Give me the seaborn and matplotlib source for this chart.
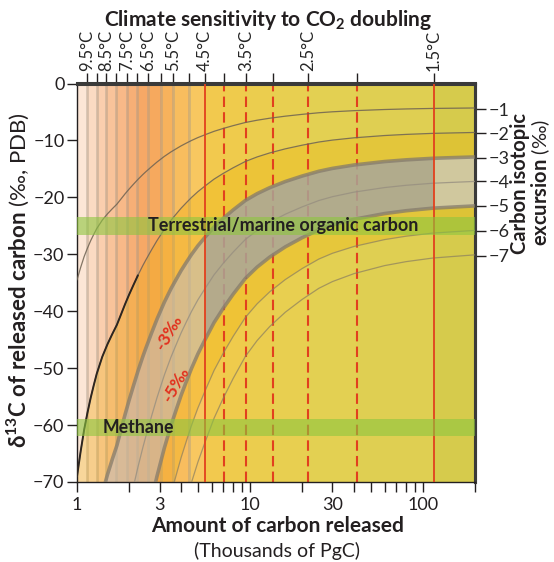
import matplotlib
matplotlib.use("Agg")
import matplotlib.pyplot as plt
import seaborn as sns
import pandas as pd
from matplotlib.patches import Rectangle
from matplotlib.ticker import NullLocator, NullFormatter, LogLocator

# ---------------- data ----------------
carbon = [1.0, 1.05, 1.1, 1.15, 1.2, 1.25, 1.3, 1.4, 1.5, 1.6, 1.7, 1.8, 1.9, 2.0,
          2.12, 2.25, 2.4, 2.5, 2.7, 2.9, 3.2, 3.5, 3.8, 4.0, 4.3, 4.6,
          5.0, 5.5, 6.2, 7.0, 8.0, 9.4, 11, 13, 16, 20, 25, 30, 40, 60, 80, 114, 150, 200]

curve_m1 = [-34.5, -32.3, -30.4, -28.9, -27.6, -26.5, -25.5, -24.0, -22.9, -22.0, -21.2, -20.25, -19.35, -18.55,
            -17.7, -16.85, -16.0, -15.5, -14.6, -13.8, -12.8, -12.0, -11.35, -10.95, -10.45, -10.0,
            -9.5, -9.0, -8.4, -7.9, -7.4, -6.85, -6.45, -6.1, -5.74, -5.42, -5.14, -4.97, -4.77, -4.57, -4.47, -4.38, -4.34, -4.3]
curve_m2 = [-69.0, -64.6, -60.8, -57.8, -55.2, -53.0, -51.0, -48.0, -45.8, -44.0, -42.4, -40.5, -38.7, -37.1,
            -35.4, -33.7, -32.0, -31.0, -29.2, -27.6, -25.6, -24.0, -22.7, -21.9, -20.9, -20.0,
            -19.0, -18.0, -16.8, -15.8, -14.8, -13.7, -12.9, -12.2, -11.48, -10.84, -10.28, -9.94, -9.54, -9.14, -8.94, -8.76, -8.68, -8.6]
curve_m3 = [-103.5, -96.9, -91.2, -86.7, -82.8, -79.5, -76.5, -72.0, -68.7, -66.0, -63.6, -60.75, -58.05, -55.65,
            -53.1, -50.55, -48.0, -46.5, -43.8, -41.4, -38.4, -36.0, -34.05, -32.85, -31.35, -30.0,
            -28.5, -27.0, -25.2, -23.7, -22.2, -20.55, -19.35, -18.3, -17.22, -16.26, -15.42, -14.91, -14.31, -13.71, -13.41, -13.14, -13.02, -12.9]
curve_m4 = [-138.0, -129.2, -121.6, -115.6, -110.4, -106.0, -102.0, -96.0, -91.6, -88.0, -84.8, -81.0, -77.4, -74.2,
            -70.8, -67.4, -64.0, -62.0, -58.4, -55.2, -51.2, -48.0, -45.4, -43.8, -41.8, -40.0,
            -38.0, -36.0, -33.6, -31.6, -29.6, -27.4, -25.8, -24.4, -22.96, -21.68, -20.56, -19.88, -19.08, -18.28, -17.88, -17.52, -17.36, -17.2]
curve_m5 = [-172.5, -161.5, -152.0, -144.5, -138.0, -132.5, -127.5, -120.0, -114.5, -110.0, -106.0, -101.25, -96.75, -92.75,
            -88.5, -84.25, -80.0, -77.5, -73.0, -69.0, -64.0, -60.0, -56.75, -54.75, -52.25, -50.0,
            -47.5, -45.0, -42.0, -39.5, -37.0, -34.25, -32.25, -30.5, -28.7, -27.1, -25.7, -24.85, -23.85, -22.85, -22.35, -21.9, -21.7, -21.5]
curve_m6 = [-207.0, -193.8, -182.4, -173.4, -165.6, -159.0, -153.0, -144.0, -137.4, -132.0, -127.2, -121.5, -116.1, -111.3,
            -106.2, -101.1, -96.0, -93.0, -87.6, -82.8, -76.8, -72.0, -68.1, -65.7, -62.7, -60.0,
            -57.0, -54.0, -50.4, -47.4, -44.4, -41.1, -38.7, -36.6, -34.44, -32.52, -30.84, -29.82, -28.62, -27.42, -26.82, -26.28, -26.04, -25.8]
curve_m7 = [-241.5, -226.1, -212.8, -202.3, -193.2, -185.5, -178.5, -168.0, -160.3, -154.0, -148.4, -141.75, -135.45, -129.85,
            -123.9, -117.95, -112.0, -108.5, -102.2, -96.6, -89.6, -84.0, -79.45, -76.65, -73.15, -70.0,
            -66.5, -63.0, -58.8, -55.3, -51.8, -47.95, -45.15, -42.7, -40.18, -37.94, -35.98, -34.79, -33.39, -31.99, -31.29, -30.66, -30.38, -30.1]

excursion_ticks = [-4.5, -8.7, -13.0, -17.2, -21.5, -25.9, -30.3]
excursion_labels = ["\u22121", "\u22122", "\u22123", "\u22124", "\u22125", "\u22126", "\u22127"]

sensitivity = [9.5, 9.0, 8.5, 8.0, 7.5, 7.0, 6.5, 6.0, 5.5, 5.0, 4.5, 4.0, 3.5, 3.0, 2.5, 2.0, 1.5]
sensitivity_pos = [1.139, 1.30, 1.475, 1.69, 1.945, 2.23, 2.59, 3.04, 3.61, 4.42, 5.47,
                   7.06, 9.48, 13.6, 21.7, 41.3, 115.8]
labeled_sens = [9.5, 8.5, 7.5, 6.5, 5.5, 4.5, 3.5, 2.5, 1.5]
solid_sens = [4.5, 1.5]
dashed_sens = [4.0, 3.5, 3.0, 2.5, 2.0]

band_colors = ["#FCE6D6", "#FBDAC2", "#FACEAE", "#F9C39A", "#F8B988", "#F7AF76", "#F6A866",
               "#F6A95E", "#F7B25C", "#F8BD5E", "#F8C760", "#F2C94E", "#EFCB4C", "#EBCD4E",
               "#E8CF50", "#E3D052", "#DFCF52", "#D6CB4C"]

organic_band = (-26.6, -23.4)
methane_band = (-62.0, -58.9)

x_ticks = [1, 3, 10, 30, 100]
x_ticklabels = ["1", "3", "10", "30", "100"]
y_ticks = [0, -10, -20, -30, -40, -50, -60, -70]
y_ticklabels = ["0", "\u221210", "\u221220", "\u221230", "\u221240", "\u221250", "\u221260", "\u221270"]

# ---------------- style ----------------
sns.set_theme(style="ticks")
plt.rcParams["font.family"] = ["Lato", "DejaVu Sans"]
plt.rcParams["mathtext.fontset"] = "custom"
plt.rcParams["mathtext.rm"] = "Lato"
plt.rcParams["mathtext.bf"] = "Lato:bold"
plt.rcParams["mathtext.it"] = "Lato:italic"
plt.rcParams["text.color"] = "#231F20"

W, H = 554, 562
fig = plt.figure(figsize=(W / 100, H / 100), dpi=100)
ax = fig.add_axes([77 / W, 1 - 482 / H, 398 / W, 398.5 / H])
ax.set_xscale("log")

pos_of = dict(zip(sensitivity, sensitivity_pos))

# background vertical bands
edges = [1.0] + sensitivity_pos + [200]
for i, c in enumerate(band_colors):
    ax.axvspan(edges[i], edges[i + 1], color=c, lw=0, zorder=0)
for s in sensitivity[:10]:
    ax.axvline(pos_of[s], color="#A89A8A", alpha=0.45, lw=2.0, zorder=0.5)

# shaded zones between curves
ax.fill_between(carbon, curve_m2, curve_m3, color="#F0B000", alpha=0.28, lw=0, zorder=1)
ax.fill_between(carbon, curve_m5, curve_m6, color="#F0B000", alpha=0.28, lw=0, zorder=1)

# dashed red sensitivity lines (under the grey band)
for s in dashed_sens:
    ax.axvline(pos_of[s], color="#E2401E", lw=1.5, ls=(0, (5, 2.5)), zorder=1.6)

# grey band between the -3 and -5 permil curves, three tones
segments = [
    (1.0, pos_of[4.5], "#C8BBA0", 0.65),
    (pos_of[4.5], pos_of[1.5], "#A9A597", 0.85),
    (pos_of[1.5], 200, "#D0C8A8", 0.9),
]
for x0, x1, col, a in segments:
    poly = ax.fill_between(carbon, curve_m3, curve_m5, color=col, alpha=a, lw=0, zorder=2)
    poly.set_clip_path(Rectangle((x0, -70), x1 - x0, 70, transform=ax.transData))

# curves
curve_styles = [
    (curve_m1, "#6E6252", 0.9, 0.85),
    (curve_m2, "#6E6252", 0.9, 0.85),
    (curve_m3, "#857B6B", 2.6, 0.75),
    (curve_m4, "#978F80", 0.9, 0.8),
    (curve_m5, "#857B6B", 2.6, 0.75),
    (curve_m6, "#8A7E60", 0.9, 0.7),
    (curve_m7, "#8A7E60", 0.9, 0.7),
]
for vals, col, lw, a in curve_styles:
    df = pd.DataFrame({"carbon": carbon, "delta": vals})
    sns.lineplot(data=df, x="carbon", y="delta", ax=ax, color=col, lw=lw, alpha=a,
                 sort=False, zorder=3)
# darker lower part of the -2 permil curve
df2 = pd.DataFrame({"carbon": carbon[:16], "delta": curve_m2[:16]})
sns.lineplot(data=df2, x="carbon", y="delta", ax=ax, color="#2E2620", lw=1.4,
             sort=False, zorder=3.1)

# solid red lines
for s in solid_sens:
    ax.axvline(pos_of[s], color="#E2401E", lw=1.3, zorder=3.5)

# green source bands
ax.axhspan(*organic_band, color="#8DC63F", alpha=0.6, lw=0, zorder=4)
ax.axhspan(*methane_band, color="#8DC63F", alpha=0.6, lw=0, zorder=4)

ax.text(15.6, -25.0, "Terrestrial/marine organic carbon", ha="center", va="center",
        fontsize=13, fontweight="bold", zorder=6)
ax.text(2.27, -60.5, "Methane", ha="center", va="center", fontsize=12.8,
        fontweight="bold", zorder=6)
ax.text(3.41, -43.7, "-3\u2030", ha="center", va="center", rotation=60, fontsize=12.5,
        fontweight="bold", color="#E2301E", zorder=6)
ax.text(3.73, -52.8, "-5\u2030", ha="center", va="center", rotation=60, fontsize=12.5,
        fontweight="bold", color="#E2301E", zorder=6)

ax.set_xlim(1, 200)
ax.set_ylim(-70, 0)
ax.set_xlabel("")
ax.set_ylabel("")

# bottom / left axes
ax.set_xticks(x_ticks)
ax.set_xticklabels(x_ticklabels)
ax.xaxis.set_minor_locator(LogLocator(base=10, subs=[2, 3, 4, 5, 6, 7, 8, 9], numticks=20))
ax.xaxis.set_minor_formatter(NullFormatter())
ax.set_yticks(y_ticks)
ax.set_yticklabels(y_ticklabels)
ax.tick_params(axis="both", which="both", direction="out", length=7, width=1.0,
               color="#231F20", labelsize=13, labelcolor="#231F20", pad=2,
               bottom=True, left=True, top=False, right=False)
ax.tick_params(axis="x", which="major", pad=4)

for side in ["left", "bottom"]:
    ax.spines[side].set_linewidth(1.0)
    ax.spines[side].set_color("#231F20")
for side in ["top", "right"]:
    ax.spines[side].set_linewidth(2.2)
    ax.spines[side].set_color("#3A3A3A")

# top axis: climate sensitivity
top = ax.secondary_xaxis("top")
top.set_xticks(sensitivity_pos)
top.set_xticklabels([f"{s}\u00b0C" if s in labeled_sens else "" for s in sensitivity])
top.xaxis.set_minor_locator(NullLocator())
top.tick_params(axis="x", direction="out", length=7, width=1.0, color="#231F20",
                labelsize=12, labelrotation=90, pad=2)
top.spines["top"].set_linewidth(2.2)
top.spines["top"].set_color("#3A3A3A")

# right axis: isotopic excursion
right = ax.secondary_yaxis("right")
right.set_yticks(excursion_ticks)
right.set_yticklabels(excursion_labels)
right.yaxis.set_minor_locator(NullLocator())
right.tick_params(axis="y", direction="out", length=8, width=1.0, color="#231F20",
                  labelsize=13, pad=2)
right.spines["right"].set_linewidth(2.2)
right.spines["right"].set_color("#3A3A3A")

# titles / labels
fig.text(268 / W, 1 - 20 / H, "Climate sensitivity to CO$_\\mathbf{2}$ doubling",
         ha="center", va="center", fontsize=15, fontweight="bold")
fig.text(278 / W, 1 - 526 / H, "Amount of carbon released", ha="center", va="center",
         fontsize=15, fontweight="bold")
fig.text(277 / W, 1 - 551 / H, "(Thousands of PgC)", ha="center", va="center", fontsize=14)
fig.text(18 / W, 1 - 280 / H,
         "$\\mathbf{\u03b4^{13}C\\ of\\ released\\ carbon}$ (\u2030, PDB)",
         rotation=90, ha="center", va="center", fontsize=16)
fig.text(520 / W, 1 - 183 / H, "Carbon isotopic", rotation=90, ha="center", va="center",
         fontsize=14.5, fontweight="bold")
fig.text(541 / W, 1 - 183 / H, "$\\mathbf{excursion}$ (\u2030)", rotation=90, ha="center",
         va="center", fontsize=14.5)

fig.savefig("out.png", dpi=100, facecolor="white")
